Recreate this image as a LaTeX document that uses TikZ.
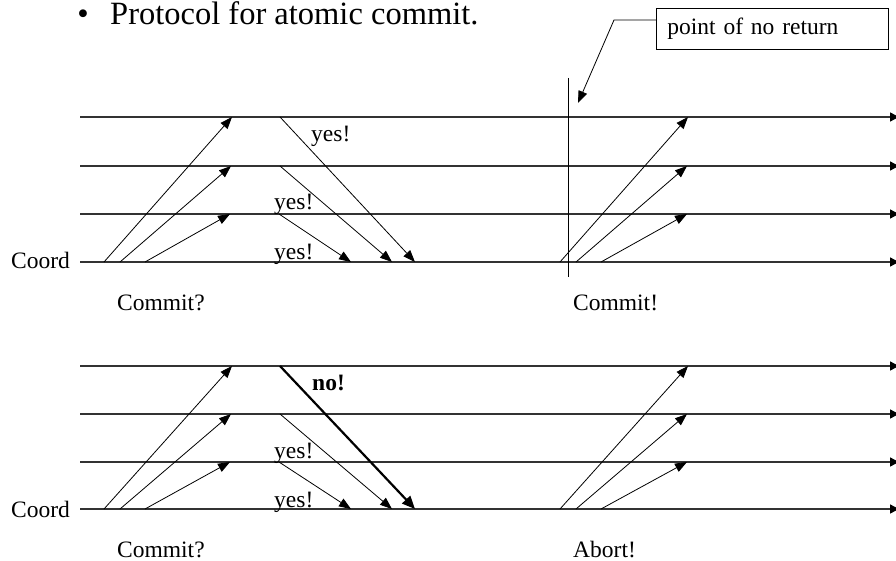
\documentclass[tikz,border=0pt]{standalone}
\usepackage{fontspec}
\setmainfont{Liberation Serif}
\usetikzlibrary{arrows.meta}
\begin{document}
\begin{tikzpicture}[x=1pt,y=-1pt,
  timeline/.style={line width=1.3pt, draw=black!80,
    -{Triangle[length=9pt,width=9pt,color=black]}},
  msg/.style={line width=0.8pt, -{Triangle[length=12pt,width=9pt]}},
  nomsg/.style={line width=2.2pt, -{Triangle[length=13pt,width=11pt]}},
  lbl/.style={inner sep=0pt, anchor=base west, font=\fontsize{23.5}{28}\selectfont},
  bigtxt/.style={inner sep=0pt, anchor=base west, font=\fontsize{32.5}{39}\selectfont},
]
\useasboundingbox (0,0) rectangle (896,561);

% heading
\node[inner sep=0pt, anchor=base, font=\fontsize{32.5}{39}\selectfont] (bullet) at (83,25) {\textbullet};
\node[bigtxt] (title) at (110,25) {Protocol for atomic commit.};

% ---------- first run: everybody votes yes ----------
\foreach \i/\y in {1/117,2/166,3/214,4/262} {
  \coordinate (As\i) at (80,\y);
  \coordinate (Ae\i) at (899,\y);
  \draw[timeline] (As\i) -- (Ae\i);
}
\node[lbl] (coordA) at (11,269) {Coord};

% vote request
\coordinate (Au1) at (104,262); \coordinate (Ar1) at (232,117);
\coordinate (Au2) at (120,262); \coordinate (Ar2) at (231,166);
\coordinate (Au3) at (145,262); \coordinate (Ar3) at (230,214);
\foreach \k in {1,2,3} \draw[msg] (Au\k) -- (Ar\k);

% votes
\coordinate (Av1) at (280,117); \coordinate (Aw1) at (415,262);
\coordinate (Av2) at (280,166); \coordinate (Aw2) at (392,262);
\coordinate (Av3) at (279,214); \coordinate (Aw3) at (351,262);
\foreach \k in {1,2,3} \draw[msg] (Av\k) -- (Aw\k);
\node[lbl] (yesA1) at (311,142) {yes!};
\node[lbl] (yesA2) at (274,210) {yes!};
\node[lbl] (yesA3) at (274,259) {yes!};

% decision
\coordinate (Ap1) at (560,262); \coordinate (Aq1) at (688,117);
\coordinate (Ap2) at (576,262); \coordinate (Aq2) at (687,166);
\coordinate (Ap3) at (601,262); \coordinate (Aq3) at (687,214);
\foreach \k in {1,2,3} \draw[msg] (Ap\k) -- (Aq\k);

\node[lbl] (askA) at (117,310) {Commit?};
\node[lbl] (decA) at (573,310) {Commit!};

% point of no return
\coordinate (nrTop) at (568,78);
\coordinate (nrBot) at (568,277);
\draw[line width=0.9pt] (nrTop) -- (nrBot);
\node[draw, line width=0.8pt, anchor=north west, minimum width=232pt,
      minimum height=41pt, inner xsep=11pt, inner ysep=0pt, text width=210pt,
      align=left, font=\fontsize{23.5}{28}\selectfont] (ponr) at (656,8) {point of no return};
\coordinate (lead0) at (656,20);
\coordinate (lead1) at (614,20);
\coordinate (leadTip) at (578,103);
\draw[msg] (lead0) -- (lead1) -- (leadTip);

% ---------- second run: one participant votes no ----------
\begin{scope}[shift={(0,248)}]
\foreach \i/\y in {1/118,2/166,3/214,4/261} {
  \coordinate (Bs\i) at (80,\y);
  \coordinate (Be\i) at (899,\y);
  \draw[timeline] (Bs\i) -- (Be\i);
}
\node[lbl] (coordB) at (11,269) {Coord};

\coordinate (Bu1) at (104,261); \coordinate (Br1) at (232,118);
\coordinate (Bu2) at (120,261); \coordinate (Br2) at (231,166);
\coordinate (Bu3) at (145,261); \coordinate (Br3) at (230,214);
\foreach \k in {1,2,3} \draw[msg] (Bu\k) -- (Br\k);

\coordinate (Bv1) at (280,118); \coordinate (Bw1) at (415,261);
\coordinate (Bv2) at (280,166); \coordinate (Bw2) at (392,261);
\coordinate (Bv3) at (279,214); \coordinate (Bw3) at (351,261);
\draw[nomsg] (Bv1) -- (Bw1);
\draw[msg] (Bv2) -- (Bw2);
\draw[msg] (Bv3) -- (Bw3);
\node[lbl, font=\fontsize{23.5}{28}\selectfont\bfseries] (noB) at (312,142) {no!};
\node[lbl] (yesB2) at (274,210) {yes!};
\node[lbl] (yesB3) at (274,259) {yes!};

\coordinate (Bp1) at (560,261); \coordinate (Bq1) at (688,118);
\coordinate (Bp2) at (576,261); \coordinate (Bq2) at (687,166);
\coordinate (Bp3) at (601,261); \coordinate (Bq3) at (687,214);
\foreach \k in {1,2,3} \draw[msg] (Bp\k) -- (Bq\k);

\node[lbl] (askB) at (117,309) {Commit?};
\node[lbl] (decB) at (573,309) {Abort!};
\end{scope}
\end{tikzpicture}
\end{document}
